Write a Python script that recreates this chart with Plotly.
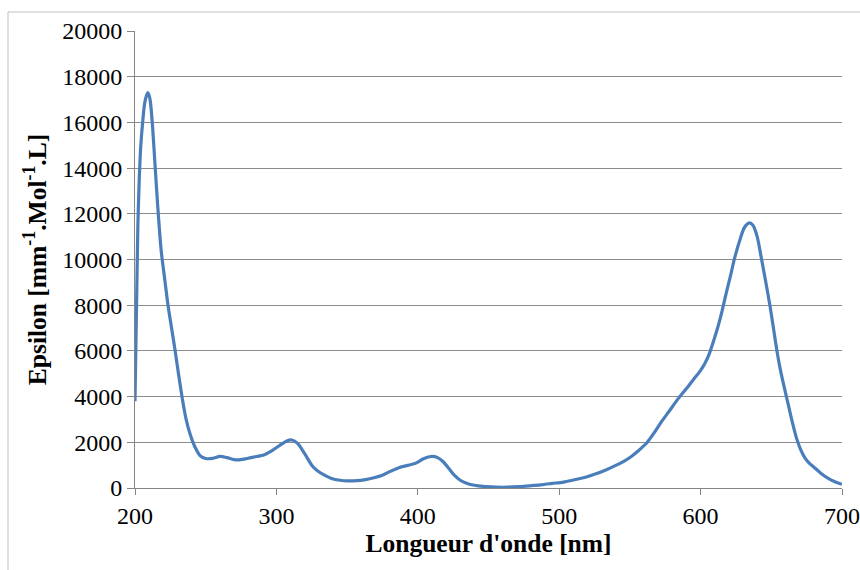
import plotly.graph_objects as go

wavelength = [200, 201, 202, 203, 204, 205.4, 207, 209, 210.5, 212.2, 214, 216, 218.5, 221, 223.5,
              226, 228.3, 231, 233.5, 236, 239, 242, 246, 250, 255, 260, 265, 270, 274, 280,
              286, 291, 296, 302, 307, 311, 315, 320, 325, 329, 334, 339, 345, 350, 357,
              363, 369, 375, 381, 387, 393, 399, 404, 410, 414, 418, 422, 426, 430, 435,
              440, 446, 455, 463, 472, 480, 487, 495, 503, 510, 518, 526, 533, 540, 546,
              551, 556, 562, 567, 572, 578, 584, 590, 595, 600, 603, 606, 609, 612, 615,
              618, 621, 624, 628, 631, 634.5, 637, 640, 643, 646, 649, 651.5, 654, 656.5,
              659, 662, 665, 668, 671, 674, 677, 680, 685, 690, 695, 700]
epsilon = [3800, 7600, 11400, 13500, 14900, 16000, 16900, 17300, 17050, 16000, 14300, 12400, 10400, 9150, 7930,
           6950, 6040, 4900, 3900, 3050, 2350, 1850, 1420, 1290, 1300, 1380, 1330, 1240, 1230, 1300,
           1380, 1440, 1600, 1850, 2050, 2100, 1950, 1500, 1000, 750, 560, 420, 340, 310, 320,
           370, 450, 560, 740, 900, 990, 1100, 1280, 1380, 1330, 1150, 850, 550, 340, 200,
           120, 70, 40, 35, 60, 100, 140, 200, 260, 350, 460, 620, 790, 990, 1180,
           1380, 1630, 1980, 2400, 2870, 3380, 3900, 4350, 4750, 5150, 5450, 5850, 6400, 7000, 7700,
           8500, 9250, 10050, 10900, 11400, 11600, 11500, 11000, 10050, 9050, 8000, 7000, 6000, 5150,
           4450, 3650, 2850, 2150, 1650, 1300, 1080, 920, 650, 430, 270, 160]

x_ticks = [200, 300, 400, 500, 600, 700]
y_ticks = [0, 2000, 4000, 6000, 8000, 10000, 12000, 14000, 16000, 18000, 20000]

font = "Liberation Serif, Times New Roman, serif"

fig = go.Figure()
fig.add_trace(go.Scatter(x=wavelength, y=epsilon, mode="lines",
                         line=dict(color="#4A7EBB", width=3.2, shape="spline", smoothing=0.8),
                         showlegend=False, hoverinfo="skip"))

fig.update_layout(
    width=860, height=570,
    margin=dict(l=135, r=18, t=31, b=82),
    paper_bgcolor="white", plot_bgcolor="white",
    showlegend=False,
    font=dict(family=font, size=24, color="black"),
    xaxis=dict(range=[200, 700], tickvals=x_ticks, ticktext=[str(v) for v in x_ticks],
               automargin=False,
               showgrid=False, zeroline=False, showline=True, linecolor="#868686", linewidth=1,
               ticks="outside", ticklen=6, tickcolor="#868686",
               tickfont=dict(family=font, size=24),
               title=dict(text="<b>Longueur d'onde [nm]</b>", font=dict(family=font, size=25.5), standoff=6)),
    yaxis=dict(range=[0, 20000], tickvals=y_ticks, ticktext=[str(v) for v in y_ticks],
               automargin=False,
               showgrid=True, gridcolor="#8C8C8C", gridwidth=1, zeroline=False,
               showline=True, linecolor="#868686", linewidth=1,
               ticks="outside", ticklen=7, tickcolor="#868686",
               tickfont=dict(family=font, size=24),
               title=dict(text="<b>Epsilon [mm<sup>-1</sup>.Mol<sup>-1</sup>.L]</b>",
                          font=dict(family=font, size=25.5), standoff=8)),
    shapes=[dict(type="rect", xref="paper", yref="paper",
                 x0=(8 - 135) / 707, x1=1.2, y0=-0.5, y1=(488 - 12) / 457,
                 line=dict(color="#BFBFBF", width=1), fillcolor="rgba(0,0,0,0)", layer="below")],
)

fig.write_html("out.html")
